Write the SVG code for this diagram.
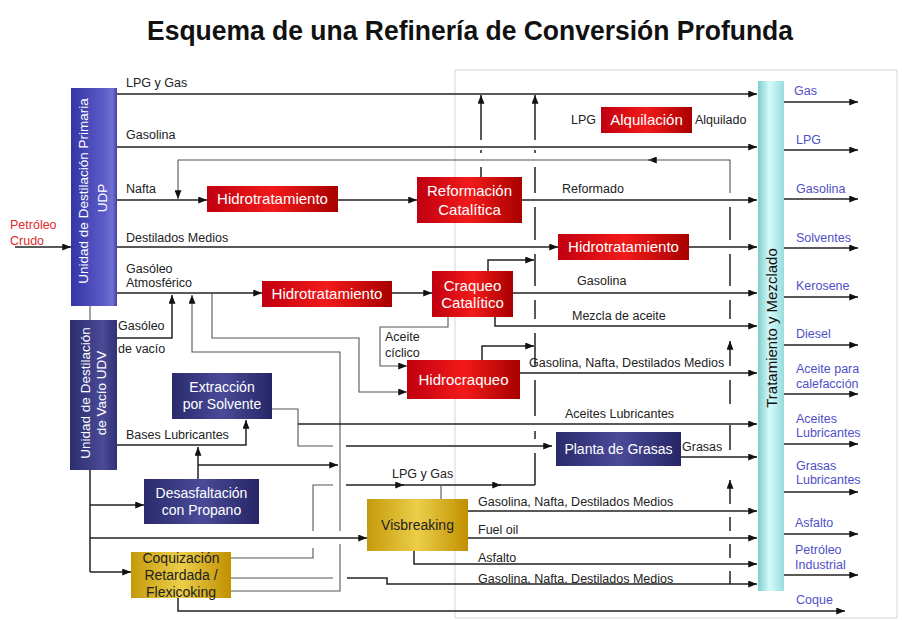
<svg xmlns="http://www.w3.org/2000/svg" width="902" height="621" viewBox="0 0 902 621">
<defs>
<marker id="ah" viewBox="0 0 10 8" refX="10" refY="4" markerWidth="9" markerHeight="7" markerUnits="userSpaceOnUse" orient="auto"><path d="M0,0 L10,4 L0,8 z" fill="#111"/></marker>
<linearGradient id="gRed" x1="0" y1="0" x2="1" y2="0"><stop offset="0" stop-color="#c00010"/><stop offset="0.5" stop-color="#f21a1a"/><stop offset="1" stop-color="#a80000"/></linearGradient>
<linearGradient id="gNavy" x1="0" y1="0" x2="1" y2="0"><stop offset="0" stop-color="#2a2a6c"/><stop offset="0.5" stop-color="#4a4a98"/><stop offset="1" stop-color="#262666"/></linearGradient>
<linearGradient id="gUDP" x1="0" y1="0" x2="1" y2="0"><stop offset="0" stop-color="#3535a5"/><stop offset="0.7" stop-color="#5a5ac8"/><stop offset="0.9" stop-color="#7070d2"/><stop offset="1" stop-color="#4040a8"/></linearGradient>
<linearGradient id="gUDV" x1="0" y1="0" x2="1" y2="0"><stop offset="0" stop-color="#2c2c70"/><stop offset="0.7" stop-color="#4a4a96"/><stop offset="1" stop-color="#303076"/></linearGradient>
<linearGradient id="gGold" x1="0" y1="0" x2="1" y2="0"><stop offset="0" stop-color="#c49a0a"/><stop offset="0.5" stop-color="#ecce4a"/><stop offset="1" stop-color="#c09000"/></linearGradient>
<linearGradient id="gCyan" x1="0" y1="0" x2="1" y2="0"><stop offset="0" stop-color="#80cccc"/><stop offset="0.45" stop-color="#d6fafa"/><stop offset="1" stop-color="#98dcdc"/></linearGradient>
</defs>
<style>
text{font-family:"Liberation Sans",Arial,sans-serif;}
.lbl{font-size:12.5px;fill:#222;}
.out{font-size:12.5px;fill:#4f4fc8;}
.bw{font-size:15px;fill:#fff;text-anchor:middle;}
.bn{font-size:14px;fill:#fff;text-anchor:middle;}
.bd{font-size:14px;fill:#222;text-anchor:middle;}
.ln{stroke:#222;stroke-width:1.5;fill:none;}
.th{stroke:#555;stroke-width:1.1;fill:none;}
.a{marker-end:url(#ah);}
</style>
<rect width="902" height="621" fill="#fff"/>
<rect x="455" y="70" width="442" height="548" fill="#fff" stroke="#dcdcdc" stroke-width="1.2"/>
<text x="470" y="40" font-size="28" font-weight="bold" text-anchor="middle" fill="#111" textLength="646" lengthAdjust="spacingAndGlyphs">Esquema de una Refinería de Conversión Profunda</text>

<g id="connectors">
<path class="ln a" d="M15,247 H71"/>
<path class="th" d="M90,306 V320"/>
<path class="ln a" d="M117,94 H757"/>
<path class="ln a" d="M117,147 H757"/>
<path class="ln a" d="M117,200 H207"/>
<path class="ln a" d="M338,200 H417"/>
<path class="ln a" d="M522,200 H757"/>
<path class="ln a" d="M117,247 H558"/>
<path class="ln a" d="M689,247 H757"/>
<path class="ln a" d="M117,293 H262"/>
<path class="ln a" d="M392,293 H432"/>
<path class="ln a" d="M513,293 H757"/>
<path class="ln a" d="M488,271 V260 H534"/>
<path class="ln a" d="M495,317 V326 H757"/>
<path class="ln a" d="M482,360 V346 H534"/>
<path class="ln a" d="M520,373 H757"/>
<path class="th a" d="M730,193 V160 H648"/>
<path class="th a" d="M652,160 H178 V199"/>
<path class="ln a" d="M481,140 V95"/>
<path class="ln" d="M481,150 V153 M481,167 V177"/>
<path class="ln a" d="M535,140 V95"/>
<path class="ln" d="M535,150 V153 M535,167 V193 M535,207 V240 M535,254 V286 M535,300 V319 M535,333 V366 M535,380 V416 M535,431 V439 M535,453 V485"/>
<path class="ln" d="M730,207 V240 M730,254 V286 M730,300 V319 M730,380 V404 M730,425 V450 M730,517 V531 M730,544 V558 M730,571 V584"/>
<path class="ln a" d="M730,366 V341"/>
<path class="ln a" d="M730,504 V480"/>
<path class="ln a" d="M117,338 H172 V295"/>
<path class="th a" d="M212,293 V338 H359 V392 H407"/>
<path class="th a" d="M448,317 V327 H380 V366 H407"/>
<path class="th a" d="M340,531 V352 H192 V295"/>
<path class="th" d="M231,591 H340 V544"/>
<path class="ln a" d="M117,445 H246 V420"/>
<path class="ln a" d="M198,479 V447"/>
<path class="ln a" d="M198,465 H338"/>
<path class="th" d="M272,409 H298 V446 H333"/>
<path class="ln a" d="M346,446 H552"/>
<path class="ln a" d="M298,424 H757"/>
<path class="ln a" d="M681,457 H757"/>
<path class="ln" d="M90,470 V572"/>
<path class="ln a" d="M90,505 H144"/>
<path class="ln a" d="M90,538 H367"/>
<path class="ln a" d="M90,572 H131"/>
<path class="th" d="M231,558 H313 V548 M313,531 V485 H333"/>
<path class="ln a" d="M346,485 H404"/>
<path class="ln a" d="M400,485 H501"/>
<path class="ln" d="M497,485 H535"/>
<path class="th" d="M441,499 V485"/>
<path class="ln a" d="M468,511 H757"/>
<path class="ln a" d="M468,538 H757"/>
<path class="ln a" d="M414,551 V564 H757"/>
<path class="th" d="M231,578 H333"/>
<path class="ln a" d="M347,578 H387 V584 H757"/>
<path class="ln a" d="M178,598 V611 H845"/>
<path class="ln a" d="M784,102 H858"/>
<path class="ln a" d="M784,150 H858"/>
<path class="ln a" d="M784,199 H858"/>
<path class="ln a" d="M784,248 H858"/>
<path class="ln a" d="M784,297 H858"/>
<path class="ln a" d="M784,345 H858"/>
<path class="ln a" d="M784,394 H858"/>
<path class="ln a" d="M784,444 H858"/>
<path class="ln a" d="M784,492 H858"/>
<path class="ln a" d="M784,534 H858"/>
<path class="ln a" d="M784,575 H858"/>
</g>

<g id="udp"><rect x="71" y="88" width="46" height="218" fill="url(#gUDP)"/>
<text transform="translate(94,191) rotate(-90)" font-size="13.5" fill="#fff" text-anchor="middle"><tspan x="0" y="-6">Unidad de Destilación Primaria</tspan><tspan x="-7" y="13">UDP</tspan></text></g>
<g id="udv"><rect x="70" y="320" width="47" height="150" fill="url(#gUDV)"/>
<text transform="translate(93,393) rotate(-90)" font-size="13.5" fill="#fff" text-anchor="middle"><tspan x="0" y="-3">Unidad de Destilación</tspan><tspan x="0" y="13">de Vacío UDV</tspan></text></g>
<g id="tym"><rect x="758" y="81" width="26" height="510" fill="url(#gCyan)"/>
<text transform="translate(771,328) rotate(-90)" font-size="15" fill="#111" text-anchor="middle" y="6">Tratamiento y Mezclado</text></g>

<g id="hdt1"><rect x="207" y="186" width="131" height="26" fill="url(#gRed)"/><text class="bw" x="272.5" y="204">Hidrotratamiento</text></g>
<g id="reformacion"><rect x="417" y="177" width="105" height="46" fill="url(#gRed)"/><text class="bw" x="469.5" y="196">Reformación</text><text class="bw" x="469.5" y="215">Catalítica</text></g>
<g id="alquilacion"><rect x="601" y="107" width="91" height="26" fill="url(#gRed)"/><text class="bw" x="646.5" y="125">Alquilación</text></g>
<g id="hdt2"><rect x="558" y="234" width="131" height="26" fill="url(#gRed)"/><text class="bw" x="623.5" y="252">Hidrotratamiento</text></g>
<g id="hdt3"><rect x="262" y="281" width="130" height="26" fill="url(#gRed)"/><text class="bw" x="327" y="299">Hidrotratamiento</text></g>
<g id="fcc"><rect x="432" y="271" width="81" height="46" fill="url(#gRed)"/><text class="bw" x="472.5" y="291">Craqueo</text><text class="bw" x="472.5" y="308">Catalítico</text></g>
<g id="hidrocraqueo"><rect x="407" y="360" width="113" height="39" fill="url(#gRed)"/><text class="bw" x="463.5" y="385">Hidrocraqueo</text></g>
<g id="extraccion"><rect x="172" y="373" width="100" height="46" fill="url(#gNavy)"/><text class="bn" x="222" y="392">Extracción</text><text class="bn" x="222" y="409">por Solvente</text></g>
<g id="desasfaltacion"><rect x="144" y="479" width="115" height="45" fill="url(#gNavy)"/><text class="bn" x="201.5" y="498">Desasfaltación</text><text class="bn" x="201.5" y="515">con Propano</text></g>
<g id="grasas"><rect x="556" y="432" width="125" height="34" fill="url(#gNavy)"/><text class="bn" x="618.5" y="454">Planta de Grasas</text></g>
<g id="visbreaking"><rect x="367" y="499" width="101" height="52" fill="url(#gGold)"/><text class="bd" x="417.5" y="530">Visbreaking</text></g>
<g id="coquizacion"><rect x="131" y="552" width="100" height="46" fill="url(#gGold)"/><text class="bd" x="181" y="563">Coquización</text><text class="bd" x="181" y="580">Retardada /</text><text class="bd" x="181" y="597">Flexicoking</text></g>

<g id="labels">
<text x="10" y="229" font-size="12.5" fill="#e02a2a">Petróleo</text>
<text x="10" y="245" font-size="12.5" fill="#e02a2a">Crudo</text>
<text class="lbl" x="126" y="87">LPG y Gas</text>
<text class="lbl" x="126" y="139">Gasolina</text>
<text class="lbl" x="126" y="193">Nafta</text>
<text class="lbl" x="126" y="242">Destilados Medios</text>
<text class="lbl" x="126" y="273">Gasóleo</text>
<text class="lbl" x="126" y="287">Atmosférico</text>
<text class="lbl" x="118" y="330">Gasóleo</text>
<text class="lbl" x="118" y="353">de vacío</text>
<text class="lbl" x="126" y="439">Bases Lubricantes</text>
<text class="lbl" x="385" y="341">Aceite</text>
<text class="lbl" x="385" y="357">cíclico</text>
<text class="lbl" x="571" y="124">LPG</text>
<text class="lbl" x="695" y="124">Alquilado</text>
<text class="lbl" x="562" y="193">Reformado</text>
<text class="lbl" x="577" y="285">Gasolina</text>
<text class="lbl" x="572" y="320">Mezcla de aceite</text>
<text class="lbl" x="529" y="367">Gasolina, Nafta, Destilados Medios</text>
<text class="lbl" x="565" y="418">Aceites Lubricantes</text>
<text class="lbl" x="682" y="451">Grasas</text>
<text class="lbl" x="392" y="478">LPG y Gas</text>
<text class="lbl" x="478" y="506">Gasolina, Nafta, Destilados Medios</text>
<text class="lbl" x="478" y="534">Fuel oil</text>
<text class="lbl" x="478" y="562">Asfalto</text>
<text class="lbl" x="478" y="583">Gasolina, Nafta, Destilados Medios</text>
<text class="out" x="794" y="95">Gas</text>
<text class="out" x="796" y="144">LPG</text>
<text class="out" x="796" y="193">Gasolina</text>
<text class="out" x="796" y="242">Solventes</text>
<text class="out" x="796" y="290">Kerosene</text>
<text class="out" x="796" y="338">Diesel</text>
<text class="out" x="796" y="373">Aceite para</text>
<text class="out" x="796" y="388">calefacción</text>
<text class="out" x="796" y="423">Aceites</text>
<text class="out" x="796" y="437">Lubricantes</text>
<text class="out" x="796" y="470">Grasas</text>
<text class="out" x="796" y="484">Lubricantes</text>
<text class="out" x="795" y="527">Asfalto</text>
<text class="out" x="795" y="554">Petróleo</text>
<text class="out" x="795" y="569">Industrial</text>
<text class="out" x="796" y="604">Coque</text>
</g>
</svg>
